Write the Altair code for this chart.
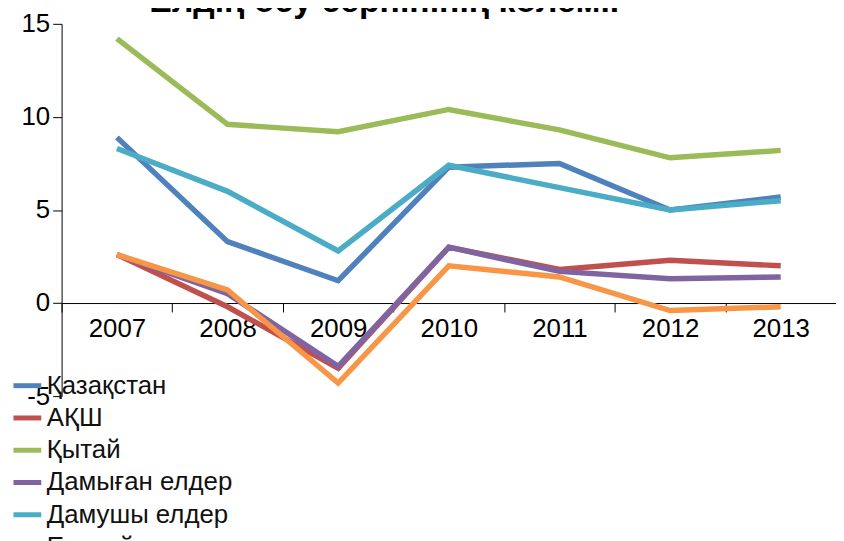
import altair as alt
import pandas as pd

years = ["2007", "2008", "2009", "2010", "2011", "2012", "2013"]
series_names = ["Қазақстан", "АҚШ", "Қытай", "Дамыған елдер", "Дамушы елдер", "Еуроаймақ"]
kazakhstan = [8.9, 3.3, 1.2, 7.3, 7.5, 5.0, 5.7]
usa = [2.6, -0.2, -3.5, 3.0, 1.8, 2.3, 2.0]
china = [14.2, 9.6, 9.2, 10.4, 9.3, 7.8, 8.2]
developed = [2.6, 0.5, -3.4, 3.0, 1.7, 1.3, 1.4]
developing = [8.3, 6.0, 2.8, 7.4, 6.2, 5.0, 5.5]
euro = [2.6, 0.7, -4.3, 2.0, 1.4, -0.4, -0.2]
colors = ["#4F81BD", "#C0504D", "#9BBB59", "#8064A2", "#4BACC6", "#F79646"]
y_ticks = [-5, 0, 5, 10, 15]
title_text = "Елдің өсу серпінінің көлемі."

all_values = [kazakhstan, usa, china, developed, developing, euro]
rows = []
for si, (name, vals) in enumerate(zip(series_names, all_values)):
    for yi, (yr, v) in enumerate(zip(years, vals)):
        rows.append({"year": yr, "value": v, "series": name, "s_order": si, "y_order": yi})
df = pd.DataFrame(rows)

FONT = "Liberation Sans"

chart = (
    alt.Chart(df)
    .mark_line(strokeWidth=5.5, strokeJoin="miter")
    .encode(
        x=alt.X(
            "year:N",
            sort=years,
            scale=alt.Scale(type="band", paddingInner=0, paddingOuter=0),
            axis=alt.Axis(
                title=None,
                labelAngle=0,
                tickBand="extent",
                offset=-93.75,
                domainColor="#000000",
                tickColor="#000000",
                tickSize=9,
                labelFontSize=26,
                labelColor="#000000",
                labelPadding=4,
                labelFont=FONT,
                grid=False,
            ),
        ),
        y=alt.Y(
            "value:Q",
            scale=alt.Scale(domain=[-5, 15], nice=False, zero=False),
            axis=alt.Axis(
                title=None,
                values=y_ticks,
                labelExpr="replace(datum.label, '−', '-')",
                domainColor="#000000",
                tickColor="#000000",
                tickSize=9,
                labelFontSize=26,
                labelColor="#000000",
                labelPadding=3,
                labelFont=FONT,
                grid=False,
            ),
        ),
        color=alt.Color(
            "series:N",
            sort=series_names,
            scale=alt.Scale(domain=series_names, range=colors),
            legend=alt.Legend(
                title=None,
                orient="none",
                legendX=-51,
                legendY=348,
                direction="vertical",
                symbolType="stroke",
                symbolSize=784,
                symbolStrokeWidth=5,
                labelFontSize=26,
                labelFont=FONT,
                labelColor="#111111",
                labelOffset=3,
                rowPadding=2.5,
                padding=0,
                labelLimit=400,
            ),
        ),
        detail="series:N",
        order="y_order:Q",
    )
    .properties(
        width=780,
        height=375,
        title=alt.TitleParams(
            text=title_text,
            fontSize=34,
            fontWeight="bold",
            font=FONT,
            color="#000000",
            anchor="middle",
            baseline="alphabetic",
            offset=0,
            dx=-65,
            dy=35,
        ),
        autosize=alt.AutoSizeParams(type="none"),
        padding={"left": 54, "top": 14, "right": 0, "bottom": 144},
    )
    .configure(background="#ffffff", view=alt.ViewConfig(stroke=None))
)

chart.save("out.html", embed_options={"renderer": "svg", "actions": False})
